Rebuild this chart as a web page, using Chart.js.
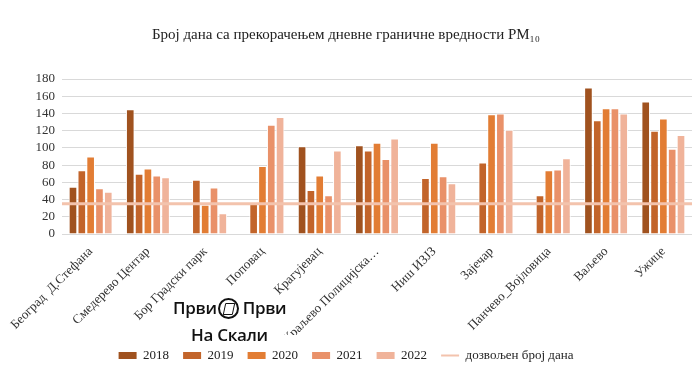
<!DOCTYPE html>
<html>
<head>
<meta charset="utf-8">
<script src="https://cdn.jsdelivr.net/npm/chart.js@4.4.1/dist/chart.umd.min.js"></script>
<style>
  html, body { margin: 0; padding: 0; background: #fff; }
  #wrap { position: relative; width: 700px; height: 382px; }
  #logo { position: absolute; left: 173px; top: 296px; font-family: "Open Sans", sans-serif; font-weight: 600; color: #111; pointer-events: none; }
  #logo .row1 { font-size: 17px; line-height: 24px; white-space: nowrap; display: flex; align-items: center; letter-spacing: -0.3px; }
  #logo .ring { display: inline-block; width: 17px; height: 17px; border: 2px solid #111; border-radius: 50%; margin: 0 4px 0 1px; position: relative; }
  #logo .ring::after { content: ""; position: absolute; left: 4px; top: 3px; width: 8px; height: 10px; border: 1.5px solid #111; border-radius: 1px; transform: skewX(-12deg); }
  #logo .row2 { font-size: 17px; line-height: 24px; margin-top: 3px; margin-left: 18px; white-space: nowrap; letter-spacing: -0.3px; }
</style>
</head>
<body>
<div id="wrap">
  <canvas id="chart" width="700" height="382"></canvas>
  <div id="logo">
    <div class="row1">Први<span class="ring"></span>Први</div>
    <div class="row2">На Скали</div>
  </div>
</div>
<script>
// Chart data
const stations = ["Београд  Д.Стефана", "Смедерево Центар", "Бор Градски парк", "Поповац", "Крагујевац",
    "Краљево Полицијска…", "Ниш ИЗЈЗ", "Зајечар", "Панчево_Војловица", "Ваљево", "Ужице"];
const years = ["2018", "2019", "2020", "2021", "2022"];
const values2018 = [55, 145, null, null, 102, 103, null, null, null, 170, 154];
const values2019 = [74, 70, 63, 35, 51, 97, 65, 83, 45, 132, 120];
const values2020 = [90, 76, 34, 79, 68, 106, 106, 139, 74, 146, 134];
const values2021 = [53, 68, 54, 127, 45, 87, 67, 140, 75, 146, 99];
const values2022 = [49, 66, 24, 136, 97, 111, 59, 121, 88, 140, 115];
const allowedDays = 35;
const allowedLabel = "дозвољен број дана";

const barColors = ["#a0521f", "#c2642a", "#e27d34", "#e99169", "#f0b39a"];
const lineColor = "#f3c3ad";
const serif = "'Liberation Serif', 'Times New Roman', serif";

const seriesValues = [values2018, values2019, values2020, values2021, values2022];

// horizontal limit line across the whole plot, placed with the y scale
const limitLine = {
    id: "limitLine",
    afterDatasetsDraw(chart) {
        const { ctx, chartArea, scales } = chart;
        const y = scales.y.getPixelForValue(allowedDays);
        ctx.save();
        ctx.strokeStyle = lineColor;
        ctx.lineWidth = 3;
        ctx.beginPath();
        ctx.moveTo(chartArea.left, y);
        ctx.lineTo(chartArea.right, y);
        ctx.stroke();
        ctx.restore();
    }
};

new Chart(document.getElementById("chart"), {
    type: "bar",
    data: {
        labels: stations,
        datasets: years.map((year, i) => ({
            label: year,
            data: seriesValues[i],
            backgroundColor: barColors[i],
            borderColor: "#ffffff",
            borderWidth: 1,
            categoryPercentage: 0.77,
            barPercentage: 0.98
        }))
    },
    options: {
        responsive: false,
        animation: false,
        layout: { padding: { top: 26, left: 0, right: 8, bottom: 10 } },
        plugins: {
            title: {
                display: true,
                text: "Број дана са прекорачењем дневне граничне вредности PM₁₀",
                color: "#222",
                font: { family: serif, size: 15, weight: "normal" },
                padding: { top: 0, bottom: 35 }
            },
            legend: {
                position: "bottom",
                labels: {
                    color: "#222",
                    font: { family: serif, size: 13 },
                    usePointStyle: true,
                    pointStyleWidth: 18,
                    boxHeight: 7,
                    padding: 14,
                    generateLabels: chart => {
                        const items = chart.data.datasets.map((ds, i) => ({
                            text: ds.label,
                            fillStyle: ds.backgroundColor,
                            strokeStyle: ds.backgroundColor,
                            lineWidth: 0,
                            pointStyle: "rect",
                            fontColor: "#222",
                            hidden: false,
                            datasetIndex: i
                        }));
                        items.push({
                            text: allowedLabel,
                            fillStyle: lineColor,
                            strokeStyle: lineColor,
                            lineWidth: 2,
                            pointStyle: "line",
                            fontColor: "#222",
                            hidden: false
                        });
                        return items;
                    }
                }
            },
            tooltip: { enabled: false }
        },
        scales: {
            x: {
                grid: { display: false },
                border: { display: false },
                ticks: {
                    color: "#333",
                    font: { family: serif, size: 13 },
                    minRotation: 45,
                    maxRotation: 45,
                    autoSkip: false,
                    padding: 2
                },
                afterFit: scale => { scale.height = 101; }
            },
            y: {
                min: 0,
                max: 180,
                grid: { color: "#d9d9d9", lineWidth: 1, drawTicks: false },
                border: { display: false },
                ticks: {
                    stepSize: 20,
                    autoSkip: false,
                    color: "#333",
                    font: { family: serif, size: 13 },
                    padding: 7
                },
                afterFit: scale => { scale.width = 62; }
            }
        }
    },
    plugins: [limitLine]
});
</script>
</body>
</html>
